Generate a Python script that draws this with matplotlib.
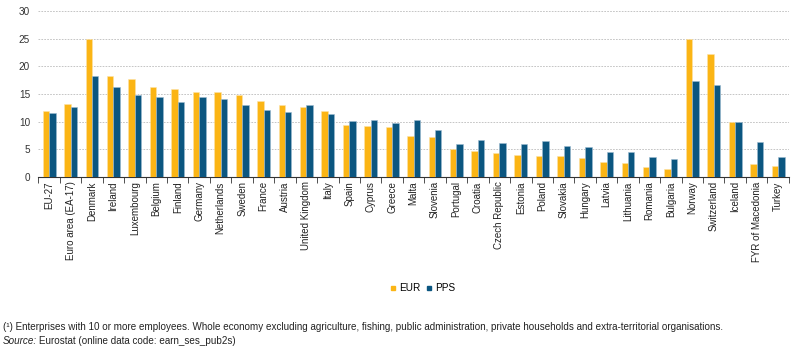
import numpy as np
import matplotlib
matplotlib.use("Agg")
from matplotlib import pyplot as plt
from matplotlib.lines import Line2D

plt.rcParams['font.family'] = ['Liberation Sans', 'DejaVu Sans']

countries = ["EU-27", "Euro area (EA-17)", "Denmark", "Ireland", "Luxembourg",
             "Belgium", "Finland", "Germany", "Netherlands", "Sweden", "France",
             "Austria", "United Kingdom", "Italy", "Spain", "Cyprus", "Greece",
             "Malta", "Slovenia", "Portugal", "Croatia", "Czech Republic",
             "Estonia", "Poland", "Slovakia", "Hungary", "Latvia", "Lithuania",
             "Romania", "Bulgaria", "Norway", "Switzerland", "Iceland",
             "FYR of Macedonia", "Turkey"]
eur = [11.9, 13.2, 25.0, 18.2, 17.7, 16.3, 15.9, 15.3, 15.3, 14.9, 13.8,
       13.0, 12.6, 11.9, 9.4, 9.2, 9.0, 7.5, 7.2, 5.0, 4.7, 4.3, 4.0, 3.9,
       3.9, 3.4, 2.7, 2.6, 1.9, 1.4, 25.0, 22.3, 9.9, 2.4, 2.0]
pps = [11.6, 12.6, 18.2, 16.3, 14.9, 14.5, 13.5, 14.5, 14.1, 13.0, 12.1,
       11.7, 13.0, 11.4, 10.1, 10.4, 9.8, 10.3, 8.5, 6.0, 6.8, 6.2, 5.9, 6.5,
       5.7, 5.5, 4.5, 4.5, 3.7, 3.3, 17.4, 16.7, 9.9, 6.3, 3.6]

c_eur = "#FBB515"
c_pps = "#0B5680"

fig = plt.figure(figsize=(8, 3.48), dpi=100)
ax = fig.add_axes([0.048, 0.491, 0.938, 0.477])

x = np.arange(len(countries))
w = 0.3
ax.bar(x - w / 2, eur, w, color=c_eur, edgecolor="#FDE3A8", linewidth=0.4, zorder=3)
ax.bar(x + w / 2, pps, w, color=c_pps, edgecolor="#9DBBD0", linewidth=0.4, zorder=3)

ax.set_xlim(-0.5, len(countries) - 0.5)
ax.set_ylim(0, 30)
ax.set_yticks(range(0, 31, 5))
ax.grid(axis="y", color="#BBBBBB", linestyle=(0, (2, 1.5)), linewidth=0.6, zorder=0)

ax.set_xticks(x)
ax.set_xticklabels(countries, rotation=90, fontsize=7, color="#222222")
ax.set_xticks(np.arange(-0.5, len(countries), 1), minor=True)
ax.tick_params(axis="x", which="major", length=0, pad=3)
ax.tick_params(axis="x", which="minor", length=4, color="#333333", width=0.6)
ax.tick_params(axis="y", length=0, labelsize=7.2, labelcolor="#333333", pad=6)

for s in ["top", "right", "left"]:
    ax.spines[s].set_visible(False)
ax.spines["bottom"].set_color("#333333")
ax.spines["bottom"].set_linewidth(0.8)

handles = [Line2D([], [], marker="s", linestyle="", color=c_eur, markersize=3.5),
           Line2D([], [], marker="s", linestyle="", color=c_pps, markersize=3.5)]
fig.legend(handles, ["EUR", "PPS"], loc="center", bbox_to_anchor=(0.528, 0.172),
           ncol=2, frameon=False, fontsize=7.2, handletextpad=0.2,
           columnspacing=0.5, handlelength=0.8)

fig.text(0.004, 0.06,
         "(¹) Enterprises with 10 or more employees. Whole economy excluding agriculture, "
         "fishing, public administration, private households and extra-territorial organisations.",
         fontsize=7.1, color="#222222", va="center")
fig.text(0.004, 0.02, "Source:", fontsize=7.1, style="italic", color="#222222", va="center")
fig.text(0.049, 0.02, "Eurostat (online data code: earn_ses_pub2s)",
         fontsize=7.1, color="#222222", va="center")

fig.savefig("out.png", dpi=100)
